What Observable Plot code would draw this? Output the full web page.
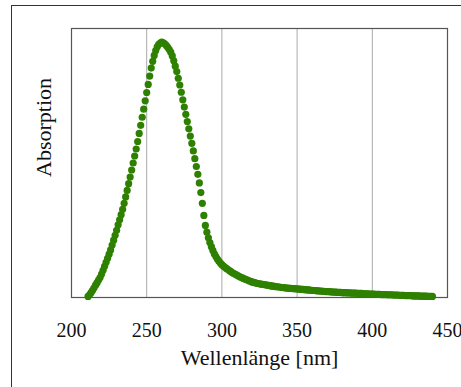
<!DOCTYPE html>
<html>
<head>
<meta charset="utf-8">
<script src="https://cdn.jsdelivr.net/npm/d3@7"></script>
<script src="https://cdn.jsdelivr.net/npm/@observablehq/plot@0.6"></script>
<style>
  html, body { margin: 0; padding: 0; background: #fff; overflow: hidden; width: 461px; height: 387px; }
  #border { position: absolute; left: 11px; top: 5px; width: 1000px; height: 1000px; border: 1px solid #333; box-sizing: border-box; }
  #chart { position: absolute; left: 0; top: 0; }
  #chart svg text { font-family: 'Liberation Serif', serif; }
</style>
</head>
<body>
<div id="border"></div>
<div id="chart"></div>
<script>
const startNm = 211;
const absorbance = [
  .004,.010,.018,.027,.036,.046,.055,.065,.074,.087,
  .101,.116,.131,.146,.161,.177,.195,.213,.231,.250,
  .270,.289,.308,.328,.350,.374,.398,.423,.448,.474,
  .500,.526,.552,.580,.610,.640,.670,.700,.731,.762,
  .792,.823,.853,.878,.900,.918,.932,.941,.946,.949,
  .947,.943,.937,.930,.922,.912,.898,.880,.860,.840,
  .815,.790,.763,.735,.708,.681,.654,.627,.600,.573,
  .545,.516,.487,.458,.426,.390,.350,.305,.268,.243,
  .222,.204,.189,.175,.162,.152,.143,.135,.128,.122,
  .117,.112,.108,.104,.100,
  .096,.092,.089,.086,.083,.080,.077,.074,.072,.069,.067,.065,.062,.060,.058,
  .056,.055,.053,.052,.051,.050,.049,.048,.047,.046,
  .045,.044,.043,.042,.041,.040,.040,.039,.038,.037,
  .037,.036,.035,.035,.034,.034,.033,.033,.032,.032,
  .031,.031,.030,.030,.029,.029,.028,.028,.027,.027,
  .026,.026,.025,.025,.024,.024,.023,.023,.022,.022,
  .022,.021,.021,.020,.020,.020,.019,.019,.019,.018,
  .018,.018,.017,.017,.017,.016,.016,.016,.016,.015,
  .015,.015,.015,.014,.014,.014,.014,.013,.013,.013,
  .013,.012,.012,.012,.012,.011,.011,.011,.011,.010,
  .010,.010,.010,.009,.009,.009,.009,.008,.008,.008,
  .008,.007,.007,.007,.007,.007,.006,.006,.006,.006,
  .006,.005,.005,.005,.005,.005,.004,.004,.004,.004
];
const wavelengths = absorbance.map((_, i) => startNm + i);
const xTicks = [200, 250, 300, 350, 400, 450];
const gridTicks = [250, 300, 350, 400];
const xLabel = "Wellenlänge [nm]";
const yLabel = "Absorption";

const data = wavelengths.map((w, i) => ({w, a: absorbance[i]}));
const green = "#2e8000";

const plot = Plot.plot({
  width: 461,
  height: 387,
  marginLeft: 71,
  marginRight: 14,
  marginTop: 28,
  marginBottom: 90,
  style: {fontFamily: "'Liberation Serif', serif", fontSize: "20px", background: "transparent", color: "#111"},
  x: {domain: [200, 450]},
  y: {domain: [0, 1], axis: null},
  marks: [
    Plot.gridX(gridTicks, {stroke: "#aaa", strokeOpacity: 1, strokeWidth: 1}),
    Plot.frame({stroke: "#555", strokeWidth: 1.2}),
    Plot.axisX({ticks: xTicks, tickSize: 0, tickPadding: 25, tickFormat: d => String(d), label: null, fontSize: 20, fontVariant: "normal"}),
    Plot.dot(data, {x: "w", y: "a", r: 3.6, fill: green, stroke: "none"}),
    Plot.text([xLabel], {frameAnchor: "bottom", dy: 67, fontSize: 22, fill: "#111"}),
    Plot.text([yLabel], {frameAnchor: "left", dx: -28, dy: 14, rotate: -90, fontSize: 22, fill: "#111"})
  ]
});
document.getElementById("chart").appendChild(plot);
</script>
</body>
</html>
